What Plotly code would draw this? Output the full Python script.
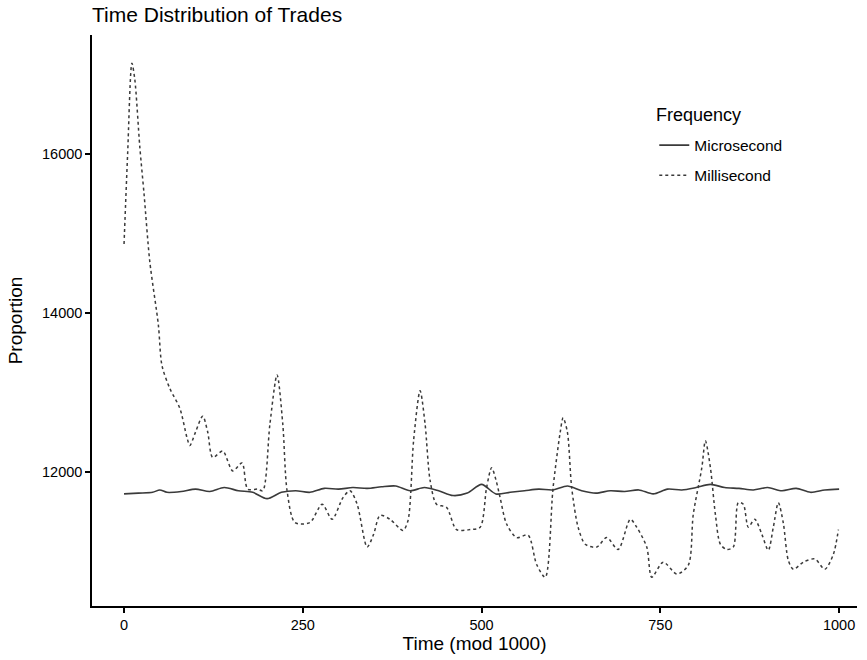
import plotly.graph_objects as go

# Microsecond series
micro_x = [0, 20, 40, 50, 60, 80, 100, 120, 140, 160, 180, 200, 220, 240, 260, 280, 300, 320,
           340, 360, 380, 400, 420, 440, 460, 480, 500, 520, 540, 560, 580, 600, 620, 640,
           660, 680, 700, 720, 740, 760, 780, 800, 820, 840, 860, 880, 900, 920, 940, 960, 980, 1000]
micro_y = [11720, 11730, 11740, 11770, 11740, 11750, 11780, 11750, 11800, 11760, 11740, 11660,
           11740, 11760, 11740, 11790, 11780, 11800, 11790, 11810, 11820, 11760, 11800, 11760,
           11700, 11730, 11840, 11720, 11740, 11760, 11780, 11770, 11820, 11760, 11730, 11760,
           11750, 11770, 11720, 11780, 11770, 11800, 11840, 11800, 11790, 11770, 11800, 11760,
           11790, 11740, 11770, 11780]

# Millisecond series
milli_x = [0, 5, 11, 15, 22, 28, 36, 48, 53, 64, 78, 88, 92, 100, 110, 117, 124, 138, 152, 165,
           173, 187, 194, 204, 214, 222, 228, 239, 260, 277, 291, 306, 316, 326, 340, 349, 358,
           372, 390, 397, 405, 414, 421, 428, 437, 451, 465, 484, 498, 507, 514, 520, 526, 535,
           549, 565, 577, 589, 600, 610, 614, 620, 626, 635, 645, 661, 675, 691, 708, 717, 731,
           738, 754, 773, 789, 796, 808, 813, 820, 827, 834, 843, 852, 859, 866, 873, 882, 892,
           901, 908, 915, 922, 929, 936, 950, 966, 980, 992, 999]
milli_y = [14870, 16000, 17150, 16950, 16100, 15500, 14650, 13850, 13340, 13050, 12800, 12430,
           12330, 12500, 12700, 12500, 12180, 12260, 12010, 12110, 11780, 11780, 11760, 12600,
           13220, 12600, 11760, 11360, 11360, 11590, 11400, 11670, 11760, 11590, 11050, 11210,
           11450, 11400, 11260, 11380, 12400, 13020, 12600, 11890, 11590, 11550, 11270, 11270,
           11300, 11800, 12050, 11900, 11670, 11340, 11170, 11200, 10830, 10670, 11800, 12500,
           12680, 12500, 11800, 11300, 11085, 11050, 11170, 11020, 11400, 11300, 11050, 10670,
           10860, 10710, 10820, 11460, 12050, 12390, 12050, 11460, 11085, 11020, 11050, 11610,
           11590, 11300, 11400, 11210, 11010, 11300, 11610, 11350, 10880, 10770, 10860, 10900,
           10770, 10960, 11270]

x_ticks = [0, 250, 500, 750, 1000]
y_ticks = [12000, 14000, 16000]

FONT = "Liberation Sans, Arial, sans-serif"

fig = go.Figure()
fig.add_trace(go.Scatter(x=micro_x, y=micro_y, mode="lines", name="Microsecond",
                         legendgroup="a",
                         line=dict(color="#3a3a3a", width=1.6, shape="spline", smoothing=0.8)))
fig.add_trace(go.Scatter(x=milli_x, y=milli_y, mode="lines", name="Millisecond",
                         legendgroup="b",
                         line=dict(color="#3a3a3a", width=1.5, dash="3px,3px",
                                   shape="spline", smoothing=0.8)))

fig.add_annotation(text="Frequency", xref="paper", yref="paper",
                   x=0.735, y=1 - (115 - 35) / 574, xanchor="left", yanchor="middle",
                   showarrow=False, font=dict(size=18, family=FONT, color="black"))

fig.update_layout(
    width=867, height=660,
    margin=dict(l=92, r=10, t=35, b=51),
    paper_bgcolor="white", plot_bgcolor="white",
    font=dict(family=FONT, color="black", size=14),
    title=dict(text="Time Distribution of Trades", x=92/867, xanchor="left",
               y=1 - 15/660, yanchor="middle", font=dict(size=21, family=FONT)),
    showlegend=True,
    legend=dict(x=0.735, y=1 - (129 - 35) / 574,
                xanchor="left", yanchor="top", bgcolor="rgba(0,0,0,0)",
                font=dict(size=15.5), traceorder="grouped", tracegroupgap=7),
    xaxis=dict(range=[-44.8, 1025], tickvals=x_ticks, ticktext=[str(v) for v in x_ticks],
               showgrid=False, zeroline=False, showline=True, linecolor="black", linewidth=1.5,
               ticks="outside", ticklen=5, tickwidth=1.5, tickcolor="black",
               tickfont=dict(size=14.5),
               title=dict(text="Time (mod 1000)", font=dict(size=19), standoff=4)),
    yaxis=dict(range=[10307, 17505], tickvals=y_ticks, ticktext=[str(v) for v in y_ticks],
               showgrid=False, zeroline=False, showline=True, linecolor="black", linewidth=1.5,
               ticks="outside", ticklen=5, tickwidth=1.5, tickcolor="black",
               tickfont=dict(size=14.5),
               title=dict(text="Proportion", font=dict(size=19), standoff=14)),
)

fig.write_html("out.html")
